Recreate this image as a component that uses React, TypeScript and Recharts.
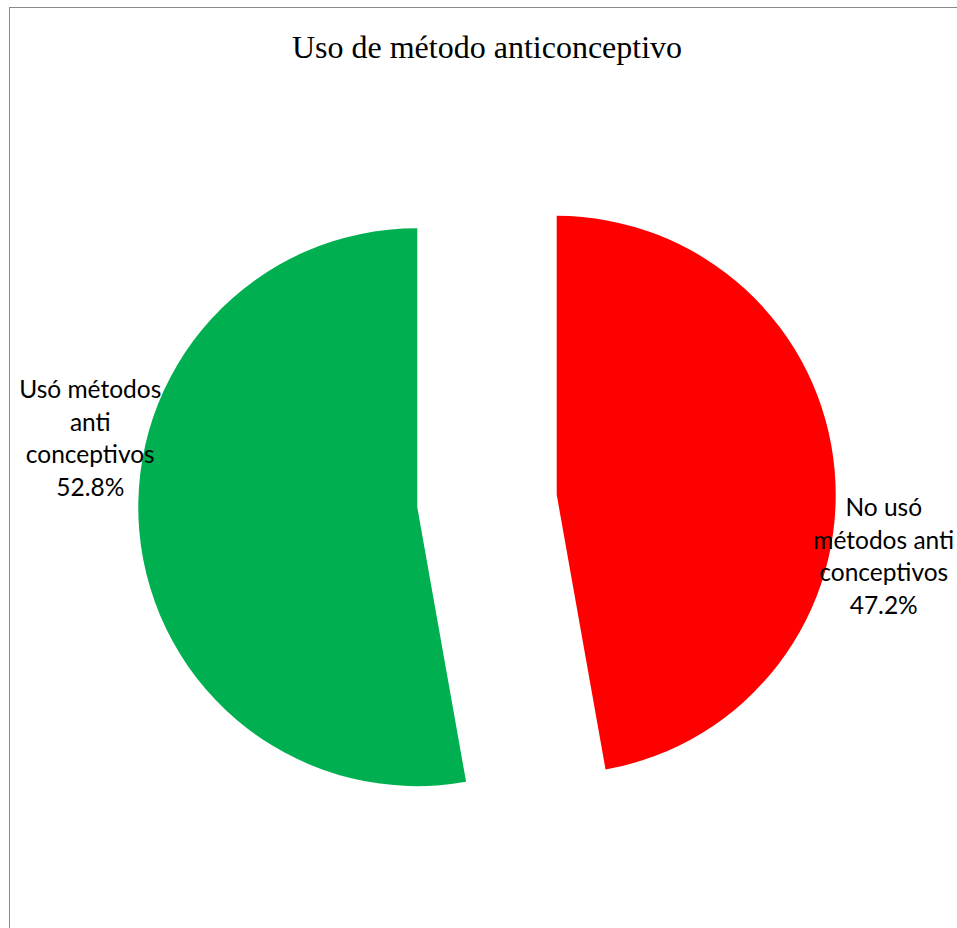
import { Cell, Pie, PieChart, Sector } from "recharts";

const categories = ["No usó métodos anti conceptivos", "Usó métodos anti conceptivos"];
const percents = [47.2, 52.8];
const labelLines = [
  ["No usó", "métodos anti", "conceptivos"],
  ["Usó métodos", "anti", "conceptivos"],
];
const colors = ["#FF0000", "#00B050"];

const chartData = categories.map((name, i) => ({ name, value: percents[i], lines: labelLines[i] }));

const RAD = Math.PI / 180;
const EXPLODE = 70;
const FONT = "Lato, 'Open Sans', sans-serif";

function ExplodedSlice(props: any) {
  const { cx, cy, midAngle, innerRadius, outerRadius, startAngle, endAngle, fill } = props;
  const dx = Math.cos(-midAngle * RAD) * EXPLODE;
  const dy = Math.sin(-midAngle * RAD) * EXPLODE;
  return (
    <Sector
      cx={cx + dx}
      cy={cy + dy}
      innerRadius={innerRadius}
      outerRadius={outerRadius}
      startAngle={startAngle}
      endAngle={endAngle}
      fill={fill}
      stroke="none"
    />
  );
}

function SliceLabel(props: any) {
  const { cx, cy, midAngle, outerRadius, index } = props;
  const cos = Math.cos(-midAngle * RAD);
  const ecx = cx + cos * EXPLODE;
  const ecy = cy + Math.sin(-midAngle * RAD) * EXPLODE;
  const right = cos > 0;
  const x = ecx + (right ? 1 : -1) * (outerRadius + 48);
  const mid = ecy + (right ? 69 : -61);
  const item = chartData[index];
  const rows = [...item.lines, `${item.value.toFixed(1)}%`];
  const lineH = 32.5;
  const first = mid - lineH * 1.5 + 1;
  return (
    <text x={x} y={first} textAnchor="middle" fill="#000" fontFamily={FONT} fontSize={24.5}>
      {rows.map((r, i) => (
        <tspan key={i} x={x} y={first + i * lineH}>
          {r}
        </tspan>
      ))}
    </text>
  );
}

export default function App() {
  return (
    <div style={{ position: "fixed", left: 0, top: 0, width: 957, height: 928, overflow: "hidden", background: "#fff" }}>
      <div
        style={{
          position: "absolute",
          left: 9,
          top: 7,
          width: 1100,
          height: 1100,
          borderLeft: "1px solid #8a8a8a",
          borderTop: "1px solid #8a8a8a",
        }}
      />
      <div
        style={{
          position: "absolute",
          left: 0,
          top: 28,
          width: 974,
          textAlign: "center",
          fontFamily: "'Liberation Serif', 'Times New Roman', serif",
          fontSize: 32,
          lineHeight: "38px",
          color: "#000",
        }}
      >
        Uso de método anticonceptivo
      </div>
      <div style={{ position: "absolute", left: 0, top: 0 }}>
        <PieChart width={957} height={928} margin={{ top: 0, right: 0, bottom: 0, left: 0 }}>
          <Pie
            data={chartData}
            dataKey="value"
            nameKey="name"
            cx={487}
            cy={501}
            outerRadius={279}
            startAngle={90}
            endAngle={-270}
            shape={ExplodedSlice}
            inactiveShape={ExplodedSlice}
            activeShape={ExplodedSlice}
            label={SliceLabel}
            labelLine={false}
            stroke="none"
            isAnimationActive={false}
          >
            {chartData.map((d, i) => (
              <Cell key={d.name} fill={colors[i]} />
            ))}
          </Pie>
        </PieChart>
      </div>
    </div>
  );
}
